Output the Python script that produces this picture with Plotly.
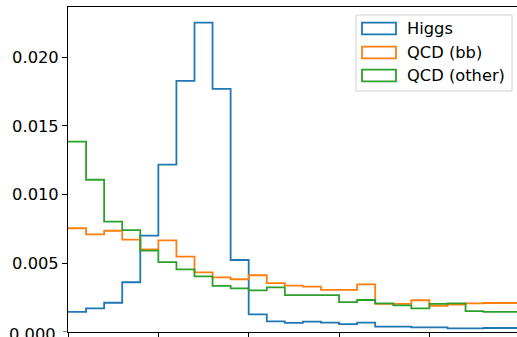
import plotly.graph_objects as go

# Bin edges (25 bins, units of bin index) and normalized histogram values
bin_edges = list(range(0, 26))
higgs = [0.00146, 0.00172, 0.00213, 0.00362, 0.00701, 0.01218, 0.01827, 0.02251,
         0.01769, 0.00524, 0.00128, 0.00077, 0.00066, 0.00075, 0.00068, 0.00058,
         0.00068, 0.00039, 0.00039, 0.00034, 0.00034, 0.00027, 0.00027, 0.00029, 0.00029]
qcd_bb = [0.00755, 0.00711, 0.00737, 0.00672, 0.00602, 0.00667, 0.00548, 0.00434,
          0.00398, 0.00384, 0.00413, 0.00355, 0.00337, 0.00330, 0.00306, 0.00306,
          0.00347, 0.00204, 0.00204, 0.00231, 0.00191, 0.00200, 0.00209, 0.00211, 0.00211]
qcd_other = [0.01385, 0.01108, 0.00803, 0.00742, 0.00592, 0.00509, 0.00456, 0.00405,
             0.00335, 0.00318, 0.00303, 0.00325, 0.00269, 0.00269, 0.00269, 0.00218,
             0.00233, 0.00209, 0.00194, 0.00172, 0.00204, 0.00209, 0.00152, 0.00146, 0.00146]
series_names = ["Higgs", "QCD (bb)", "QCD (other)"]
series_colors = ["#1f77b4", "#ff7f0e", "#2ca02c"]
y_ticks = [0.0, 0.005, 0.010, 0.015, 0.020]
x_ticks = [0, 5, 10, 15, 20, 25]

W, H = 517, 337
L, R, T, B = 68, 0, 7, 5
pw, ph = W - L - R, H - T - B
FS = 16.3

fig = go.Figure()
for name, vals, col in zip(series_names, [higgs, qcd_bb, qcd_other], series_colors):
    fig.add_trace(go.Scatter(
        x=bin_edges, y=vals + [vals[-1]], mode="lines",
        line=dict(color=col, width=1.8, shape="hv"),
        name=name, showlegend=False, hoverinfo="skip", cliponaxis=True))

def px_x(p):
    return (p - L) / pw

def px_y(p):
    return (H - B - p) / ph

shapes = []
annotations = []
# legend frame
shapes.append(dict(type="rect", xref="paper", yref="paper",
                   x0=px_x(356), x1=px_x(512), y0=px_y(91), y1=px_y(15),
                   line=dict(color="#d0d0d0", width=1), fillcolor="rgba(255,255,255,0.8)",
                   layer="above"))
row_centers = [28.5, 52.5, 75.5]
for name, col, cy in zip(series_names, series_colors, row_centers):
    shapes.append(dict(type="rect", xref="paper", yref="paper",
                       x0=px_x(362), x1=px_x(396), y0=px_y(cy + 5.8), y1=px_y(cy - 5.8),
                       line=dict(color=col, width=1.8), fillcolor="rgba(0,0,0,0)",
                       layer="above"))
    annotations.append(dict(xref="paper", yref="paper", x=px_x(405), y=px_y(cy),
                            xanchor="left", yanchor="middle", text=name, showarrow=False,
                            font=dict(family="DejaVu Sans", size=FS, color="black")))

# the 0.000 tick label sits on the bottom edge and is partly cut off (as in the reference)
annotations.append(dict(xref="paper", yref="y", x=px_x(58), y=0.0, xanchor="right",
                        yanchor="middle", text="0.000", showarrow=False, yshift=-2,
                        font=dict(family="DejaVu Sans", size=FS, color="black")))
# bottom tick mark for 0.000
shapes.append(dict(type="line", xref="paper", yref="y", x0=px_x(63), x1=px_x(68), y0=0, y1=0,
                   line=dict(color="black", width=1)))

fig.update_layout(
    width=W, height=H,
    margin=dict(l=L, r=R, t=T, b=B, pad=0, autoexpand=False),
    paper_bgcolor="white", plot_bgcolor="white",
    font=dict(family="DejaVu Sans", size=FS, color="black"),
    shapes=shapes, annotations=annotations,
    showlegend=False,
)
fig.update_xaxes(range=[0, pw / 18.07], tickvals=x_ticks, showticklabels=False,
                 ticks="outside", ticklen=5, tickcolor="black", showgrid=False, automargin=False,
                 zeroline=False, showline=True, linecolor="black", linewidth=1, mirror=True)
fig.update_yaxes(range=[0, ph / 13740], tickvals=y_ticks[1:], tickformat=".3f",
                 ticks="outside", ticklen=5, tickcolor="black", showgrid=False, automargin=False,
                 zeroline=False, showline=True, linecolor="black", linewidth=1)

fig.write_html(
    "out.html",
    config={"displayModeBar": False},
    post_script="document.body.style.margin='0';document.body.style.padding='0';"
                "document.body.style.overflow='hidden';",
)
